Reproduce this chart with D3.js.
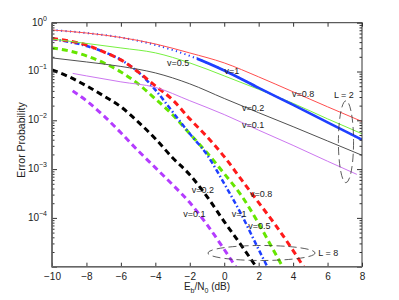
<!DOCTYPE html>
<html>
<head>
<meta charset="utf-8">
<title>Error Probability vs Eb/N0</title>
<style>
  body { margin: 0; background: #fff; }
  text { font-family: "Liberation Sans", Arial, sans-serif; fill: #222; }
</style>
</head>
<body>
<script src="https://cdn.jsdelivr.net/npm/d3@7"></script>
<script>
// values (probability vs Eb/N0 in dB)
var snrL2 = [-10, -8, -6, -4, -2, 0, 2, 4, 6, 8];
var l2v08 = [0.709, 0.615, 0.498, 0.367, 0.240, 0.150, 0.0776, 0.0383, 0.0189, 0.00945];
var l2v1  = [0.709, 0.615, 0.498, 0.350, 0.209, 0.105, 0.0462, 0.0207, 0.0091, 0.00399];
var l2v05 = [0.464, 0.376, 0.304, 0.241, 0.150, 0.0813, 0.0431, 0.0223, 0.0107, 0.0053];
var l2v02 = [0.190, 0.157, 0.127, 0.0936, 0.0558, 0.0280, 0.0143, 0.0074, 0.00377, 0.00192];
var snrL2v01 = [-8.8, -8, -6, -4, -2, 0, 2, 4, 6, 7.7];
var l2v01 = [0.0914, 0.0813, 0.0613, 0.0473, 0.0252, 0.0131, 0.00628, 0.00306, 0.00145, 0.00078];

var snrL8v08 = [-10, -9, -8, -7, -6, -5, -4, -3, -2, -1, 0, 1, 2, 3, 4, 5];
var l8v08 = [0.475, 0.422, 0.350, 0.252, 0.173, 0.0981, 0.0508, 0.0263, 0.0107, 0.0046, 0.0018, 6.07e-4, 2.06e-4, 6.96e-5, 2.14e-5, 6e-6];
var snrL8v1 = [-10, -9, -8, -7, -6, -5, -4, -3, -2, -1, 0, 1, 2, 3];
var l8v1 = [0.464, 0.403, 0.334, 0.252, 0.173, 0.0981, 0.0421, 0.0149, 0.0053, 0.00197, 5.03e-4, 1.17e-4, 2.25e-5, 4.5e-6];
var snrL8v05 = [-10, -9, -8, -7, -6, -5, -4, -3, -2, -1, 0, 1, 2, 3, 4];
var l8v05 = [0.304, 0.264, 0.209, 0.150, 0.0981, 0.0558, 0.0275, 0.0130, 0.0053, 0.00216, 8.05e-4, 2.86e-4, 7.64e-5, 1.77e-5, 4.1e-6];
var snrL8v02 = [-10, -9, -8, -7, -6, -5, -4, -3, -2, -1, 0, 1, 2];
var l8v02 = [0.108, 0.0776, 0.0508, 0.0317, 0.0189, 0.0093, 0.00419, 0.00171, 7.67e-4, 2.73e-4, 8.4e-5, 2.71e-5, 8.4e-6];
var snrL8v01 = [-8.8, -8, -7, -6, -5, -4, -3, -2, -1, 0, 1];
var l8v01 = [0.0401, 0.0251, 0.0124, 0.00555, 0.00238, 0.00107, 4.8e-4, 2.06e-4, 7.3e-5, 2.25e-5, 6.6e-6];

var xTicks = [-10, -8, -6, -4, -2, 0, 2, 4, 6, 8];
var yTickExp = [0, -1, -2, -3, -4];

// curve labels [text, snr, probability] (left end / baseline)
var curveLabels = [
  ["v=0.5", -3.32, 0.130], ["v=1", 0.02, 0.0873], ["v=0.8", 3.94, 0.0295],
  ["v=0.2", 1.03, 0.0156], ["v=0.1", 1.03, 0.00686], ["L = 2", 6.37, 0.0282],
  ["v=0.2", -1.89, 3.21e-4], ["v=0.1", -2.38, 1.04e-4], ["v=0.8", 1.50, 2.73e-4],
  ["v=1", 0.43, 1.06e-4], ["v=0.5", 1.40, 5.9e-5], ["L = 8", 5.46, 1.69e-5]
];
// group ellipses: [centre snr, half width (dB), top p, bottom p]
var groupRings = [
  [7.07, 0.44, 0.0251, 5.27e-4],
  [2.165, 3.11, 2.72e-5, 1.34e-5]
];

var margin = {top: 22.7, right: 37, bottom: 33.3, left: 52},
    width = 399 - margin.left - margin.right,
    height = 300 - margin.top - margin.bottom;

var x = d3.scaleLinear().domain([-10, 8]).range([0, width]);
var y = d3.scaleLog().domain([1e-5, 1]).range([height, 0]);

var svg = d3.select("body").append("svg")
  .attr("width", 399)
  .attr("height", 300)
  .append("g")
  .attr("transform", "translate(" + margin.left + "," + margin.top + ")");

svg.append("clipPath").attr("id", "plotclip")
  .append("rect").attr("width", width).attr("height", height);
// the thick v=1 (L=2) line only shows once it leaves the v=0.8 line
svg.append("clipPath").attr("id", "bluesplit")
  .append("rect").attr("x", x(-1.6)).attr("width", width - x(-1.6)).attr("height", height);

function series(xs, ys) {
  return xs.map(function (v, i) { return {x: v, p: ys[i]}; });
}

var curves = [
  {d: series(snrL8v01, l8v01), color: "#b43cff", w: 3, dash: "6,4"},
  {d: series(snrL8v02, l8v02), color: "#000000", w: 3, dash: "6,4"},
  {d: series(snrL8v05, l8v05), color: "#66e600", w: 3, dash: "6,4"},
  {d: series(snrL8v1, l8v1), color: "#1f3fff", w: 2.5, dash: "5,2.5,1.5,2.5"},
  {d: series(snrL8v08, l8v08), color: "#ff1a1a", w: 3, dash: "6,4"},
  {d: series(snrL2, l2v05), color: "#77f040", w: 1, dash: null},
  {d: series(snrL2, l2v02), color: "#505050", w: 1, dash: null},
  {d: series(snrL2v01, l2v01), color: "#cc77f0", w: 1, dash: null},
  {d: series(snrL2, l2v1), color: "#1f3fff", w: 2, dash: "1.2,3.3"},
  {d: series(snrL2, l2v1), color: "#1f3fff", w: 2.6, dash: null, clip: "bluesplit"},
  {d: series(snrL2, l2v08), color: "#ff4d4d", w: 1, dash: null}
];

var line = d3.line()
  .x(function (d) { return x(d.x); })
  .y(function (d) { return y(d.p); })
  .curve(d3.curveMonotoneX);

var plot = svg.append("g").attr("clip-path", "url(#plotclip)");
plot.selectAll("path")
  .data(curves)
  .enter().append("path")
  .attr("d", function (c) { return line(c.d); })
  .attr("clip-path", function (c) { return c.clip ? "url(#" + c.clip + ")" : null; })
  .attr("fill", "none")
  .attr("stroke", function (c) { return c.color; })
  .attr("stroke-width", function (c) { return c.w; })
  .attr("stroke-dasharray", function (c) { return c.dash; });

// dashed ellipses around each group
svg.selectAll(".ring")
  .data(groupRings)
  .enter().append("ellipse")
  .attr("class", "ring")
  .attr("cx", function (r) { return x(r[0]); })
  .attr("cy", function (r) { return (y(r[2]) + y(r[3])) / 2; })
  .attr("rx", function (r) { return x(r[0] + r[1]) - x(r[0]); })
  .attr("ry", function (r) { return (y(r[3]) - y(r[2])) / 2; })
  .attr("fill", "none")
  .attr("stroke", "#333")
  .attr("stroke-width", 0.8)
  .attr("stroke-dasharray", "8,4");

svg.selectAll(".clabel")
  .data(curveLabels)
  .enter().append("text")
  .attr("class", "clabel")
  .attr("x", function (d) { return x(d[1]); })
  .attr("y", function (d) { return y(d[2]); })
  .style("font-size", "9px")
  .text(function (d) { return d[0]; });

// axes: ticks point inward on all four sides
var majors = yTickExp.map(function (e) { return Math.pow(10, e); }).concat([1e-5]);
var minors = [];
for (var e = -5; e < 0; e++) {
  for (var k = 2; k <= 9; k++) minors.push(k * Math.pow(10, e));
}

svg.append("g")
  .attr("transform", "translate(0," + height + ")")
  .call(d3.axisBottom(x).tickValues(xTicks).tickSize(-4).tickPadding(6))
  .call(function (g) { g.select(".domain").remove(); })
  .selectAll("text").style("font-size", "10px").attr("fill", "#222");

svg.append("g")
  .call(d3.axisTop(x).tickValues(xTicks).tickSize(-4).tickFormat(""))
  .call(function (g) { g.select(".domain").remove(); });

[d3.axisLeft, d3.axisRight].forEach(function (ax, i) {
  var g = svg.append("g").attr("transform", "translate(" + (i ? width : 0) + ",0)");
  g.append("g").call(ax(y).tickValues(majors).tickSize(-5).tickFormat(""));
  g.append("g").call(ax(y).tickValues(minors).tickSize(-2.5).tickFormat(""));
  g.selectAll(".domain").remove();
});
svg.selectAll(".tick line").attr("stroke", "#333");

var ylab = svg.append("g").selectAll("text")
  .data(yTickExp)
  .enter().append("text")
  .attr("x", -5)
  .attr("y", function (e) { return y(Math.pow(10, e)) + 3; })
  .style("text-anchor", "end")
  .style("font-size", "10px");
ylab.append("tspan").text("10");
ylab.append("tspan").attr("dy", -5).style("font-size", "7px")
  .text(function (e) { return e === 0 ? "0" : "\u2212" + (-e); });

// frame
svg.append("rect")
  .attr("width", width).attr("height", height)
  .attr("fill", "none").attr("stroke", "#333").attr("stroke-width", 1);
svg.append("path")
  .attr("d", "M0,0V" + height + "H" + width)
  .attr("fill", "none").attr("stroke", "#666").attr("stroke-width", 1.6);

// axis titles
var xt = svg.append("text")
  .attr("x", width / 2)
  .attr("y", height + 23)
  .style("text-anchor", "middle")
  .style("font-size", "10px");
xt.append("tspan").text("E");
xt.append("tspan").attr("dy", 3).style("font-size", "7px").text("b");
xt.append("tspan").attr("dy", -3).text("/N");
xt.append("tspan").attr("dy", 3).style("font-size", "7px").text("0");
xt.append("tspan").attr("dy", -3).text(" (dB)");

svg.append("text")
  .attr("transform", "rotate(-90)")
  .attr("x", -(140 - margin.top))
  .attr("y", 25 - margin.left)
  .style("text-anchor", "middle")
  .style("font-size", "10.5px")
  .text("Error Probability");
</script>
</body>
</html>
